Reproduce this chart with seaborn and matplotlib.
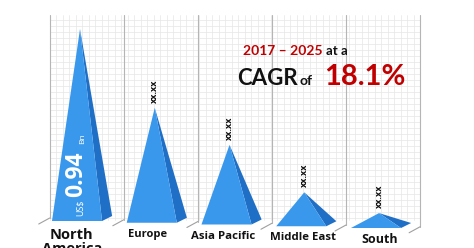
import numpy as np
import matplotlib
matplotlib.use("Agg")
import matplotlib.pyplot as plt
import seaborn as sns

# ---- data ----
regions = ["North America", "Europe", "Asia Pacific", "Middle East", "South America"]
values = [0.94, 0.563, 0.39, 0.166, 0.073]
value_labels = ["", "xx.xx", "xx.xx", "xx.xx", "xx.xx"]
highlight_value = "0.94"
period = "2017 – 2025"
cagr = "18.1%"

sns.set_theme(style="white")
plt.rcParams["font.family"] = ["Open Sans", "DejaVu Sans"]

W, H = 474, 248
fig = plt.figure(figsize=(W / 100, H / 100), dpi=100)
ax = fig.add_axes([0, 0, 1, 1])

PX_X = 74.75          # pixels per category
X0 = 80               # pixel x of first category
PX_Y = 192 / 0.94     # pixels per unit value
Y0 = 221              # pixel y of value 0 (first category)
ax.set_xlim(-X0 / PX_X, (W - X0) / PX_X)
ax.set_ylim(-(H - Y0) / PX_Y, Y0 / PX_Y)
ax.axis("off")

def py(p):   # pixel row -> data y
    return (Y0 - p) / PX_Y

tilt = 1.75 / PX_Y   # floor perspective drop per category

# ---- background grid (wall) ----
left_edge, right_edge = -0.405, 4.55
wall_top = py(15)
wall_bot = py(218)
fine_color = "#e6e6e6"
for xv in np.arange(left_edge, right_edge, 6.5 / PX_X):
    ax.plot([xv, xv], [wall_bot - 0.01, wall_top], color=fine_color, lw=0.5, zorder=0)
for yv in np.arange(wall_bot, wall_top, 6.0 / PX_Y):
    ax.plot([left_edge, right_edge], [yv, yv], color=fine_color, lw=0.5, zorder=0)

n = len(regions)
seps = [left_edge + k * (right_edge - left_edge) / n for k in range(n + 1)]
for k, s in enumerate(seps):
    b = wall_bot - k * tilt
    ax.plot([s, s], [b, wall_top], color="#b5b5b5", lw=0.8, zorder=1)
    ax.plot([s - 11 / PX_X, s], [b - 6 / PX_Y, b], color="#a0a0a0", lw=0.8, zorder=1)

# ---- pyramids ----
front_c = "#3a98ec"
side_c = "#1f6fc6"
for i, (reg, v) in enumerate(zip(regions, values)):
    base = -i * tilt
    lw_, rw_, bw_ = 0.375, 0.295, 0.43
    front = [(i - lw_, base), (i + rw_, base), (i, base + v)]
    side = [(i + rw_, base), (i + bw_, base + 5 / PX_Y), (i, base + v)]
    ax.fill(*zip(*side), color=side_c, lw=0, zorder=3)
    ax.fill(*zip(*front), color=front_c, lw=0, zorder=4)
    if value_labels[i]:
        ax.text(i, base + v + 5 / PX_Y, value_labels[i], rotation=90,
                ha="center", va="bottom", fontsize=6.5, fontweight="bold",
                color="#111111", zorder=5)

# value inside the first pyramid
ax.text(0.0, py(216), "US$", rotation=90, ha="center", va="bottom",
        fontsize=6.5, color="white", zorder=6)
ax.text(-0.05, py(197), highlight_value, rotation=90, ha="center", va="bottom",
        fontsize=16.5, fontweight="bold", color="white", zorder=6)
ax.text(0.03, py(144), "Bn", rotation=90, ha="center", va="bottom",
        fontsize=6, color="white", zorder=6)

# ---- category labels (top pixel, size) ----
label_specs = [
    (-0.11, 228, 10.5, "North\nAmerica"),
    (0.91, 229, 8, "Europe"),
    (1.91, 231, 8.2, "Asia Pacific"),
    (2.98, 232, 8.2, "Middle East"),
    (4.01, 233, 9, "South"),
]
for (xx, top_px, fs, txt) in label_specs:
    ax.text(xx, py(top_px), txt, ha="center", va="top", fontsize=fs,
            fontweight="bold", color="#111111", linespacing=1.0, zorder=6)

# ---- CAGR callout ----
red = "#c00000"
cf = ["Lato", "DejaVu Sans"]
def ftext(x, y, s, **kw):
    fig.text(x / W, 1 - y / H, s, ha="left", va="baseline", family=cf,
             fontweight="bold", **kw)

ftext(243, 55, period, fontsize=10, color=red)
ftext(326, 55, "at a", fontsize=9.5, color="#111111")
ftext(237, 85, "CAGR", fontsize=16, color="#111111")
ftext(300, 85, "of", fontsize=10, color="#111111")
ftext(324, 85, cagr, fontsize=21, color=red)

fig.savefig("out.png", dpi=100)
